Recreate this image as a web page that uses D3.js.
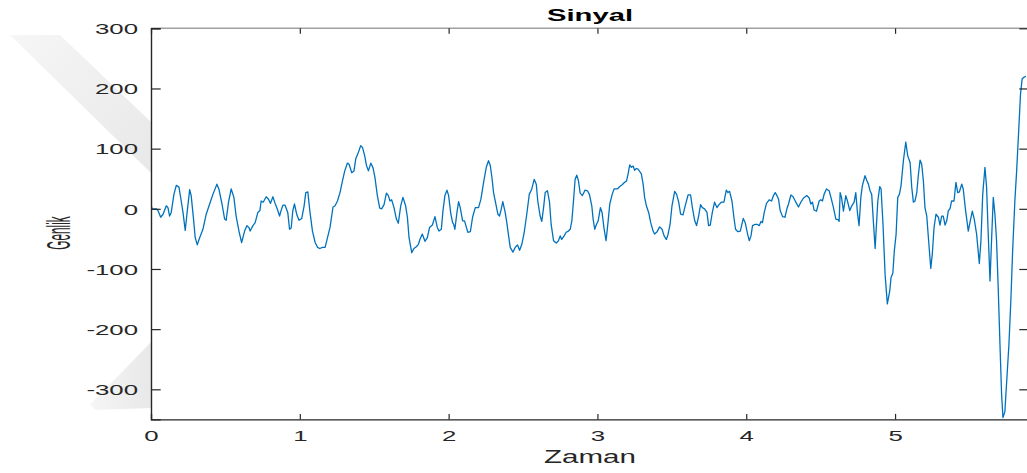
<!DOCTYPE html>
<html>
<head>
<meta charset="utf-8">
<script src="https://cdn.jsdelivr.net/npm/d3@7"></script>
<style>
  html, body { margin: 0; padding: 0; background: #ffffff; }
  svg { display: block; }
  text { font-family: "Liberation Sans", Arial, Helvetica, sans-serif; }
</style>
</head>
<body>
<svg id="chart" width="1027" height="473"></svg>
<script>
// ---- data ----
const titleText = "Sinyal";
const xLabelText = "Zaman";
const yLabelText = "Genlik";
const xTicks = [0, 1, 2, 3, 4, 5];
const yTicks = [-300, -200, -100, 0, 100, 200, 300];
const xDomain = [0, 5.9];
const yDomain = [-350, 300];

const time = [
  0.000,0.007,0.036,0.047,0.065,0.081,0.103,0.114,0.125,0.136,0.154,0.170,0.188,0.203,0.215,0.230,0.244,0.260,0.270,0.287,
  0.297,0.311,0.327,0.349,0.371,0.394,0.416,0.443,0.456,0.477,0.495,0.505,0.521,0.539,0.557,0.572,0.591,0.609,0.629,0.644,
  0.658,0.666,0.685,0.700,0.718,0.732,0.740,0.754,0.774,0.790,0.803,0.819,0.834,0.848,0.864,0.874,0.886,0.901,0.919,0.931,
  0.942,0.953,0.964,0.980,0.995,1.013,1.029,1.040,1.054,1.067,1.085,1.103,1.119,1.134,1.152,1.170,1.186,1.203,1.223,1.237,
  1.253,1.270,1.287,1.302,1.320,1.331,1.349,1.364,1.376,1.394,1.409,1.421,1.436,1.448,1.461,1.477,1.492,1.505,1.521,1.537,
  1.550,1.566,1.582,1.595,1.606,1.617,1.633,1.649,1.662,1.678,1.693,1.711,1.723,1.734,1.752,1.767,1.783,1.797,1.807,1.823,
  1.841,1.857,1.872,1.891,1.908,1.924,1.935,1.951,1.962,1.975,1.989,2.000,2.015,2.027,2.034,2.042,2.056,2.067,2.078,2.094,
  2.107,2.116,2.129,2.146,2.161,2.179,2.201,2.217,2.235,2.253,2.268,2.280,2.291,2.302,2.313,2.331,2.342,2.354,2.364,2.380,
  2.391,2.403,2.414,2.432,2.448,2.463,2.477,2.492,2.508,2.525,2.542,2.559,2.575,2.589,2.599,2.615,2.626,2.638,2.649,2.664,
  2.678,2.689,2.705,2.723,2.738,2.750,2.760,2.776,2.790,2.805,2.817,2.828,2.839,2.850,2.861,2.872,2.884,2.899,2.917,2.933,
  2.946,2.962,2.971,2.982,2.993,3.005,3.020,3.031,3.045,3.058,3.072,3.083,3.099,3.112,3.134,3.150,3.166,3.183,3.195,3.206,
  3.217,3.228,3.240,3.250,3.262,3.273,3.284,3.295,3.307,3.317,3.329,3.344,3.358,3.374,3.384,3.401,3.418,3.434,3.448,3.463,
  3.474,3.488,3.501,3.519,3.532,3.546,3.559,3.575,3.591,3.609,3.626,3.638,3.653,3.666,3.680,3.693,3.705,3.720,3.736,3.747,
  3.758,3.772,3.787,3.803,3.817,3.832,3.850,3.866,3.877,3.888,3.904,3.917,3.928,3.944,3.960,3.980,3.993,4.009,4.020,4.032,
  4.042,4.060,4.076,4.087,4.099,4.109,4.121,4.136,4.154,4.170,4.183,4.195,4.206,4.217,4.228,4.244,4.260,4.273,4.284,4.300,
  4.315,4.333,4.351,4.367,4.385,4.407,4.423,4.434,4.445,4.456,4.472,4.490,4.501,4.512,4.523,4.539,4.557,4.572,4.586,4.602,
  4.617,4.624,4.631,4.640,4.653,4.669,4.680,4.696,4.709,4.725,4.736,4.747,4.758,4.770,4.780,4.798,4.810,4.821,4.832,4.843,
  4.854,4.866,4.884,4.897,4.906,4.919,4.933,4.948,4.964,4.973,4.985,4.995,5.007,5.018,5.029,5.040,5.056,5.072,5.085,5.101,
  5.112,5.123,5.134,5.146,5.156,5.168,5.179,5.190,5.201,5.213,5.224,5.240,5.250,5.262,5.275,5.291,5.302,5.313,5.324,5.336,
  5.347,5.358,5.369,5.380,5.396,5.409,5.421,5.432,5.448,5.458,5.474,5.492,5.503,5.519,5.532,5.548,5.566,5.577,5.589,5.604,
  5.615,5.626,5.638,5.649,5.660,5.671,5.682,5.693,5.705,5.716,5.725,5.738,5.750,5.765,5.778,5.790,5.805,5.817,5.832,5.843,
  5.854,5.868,5.879
];
const amplitude = [
  8,0,0,-3,-14,-9,5,2,-12,-6,24,39,36,13,-6,-36,-3,32,22,-20,
  -48,-60,-48,-34,-9,8,24,41,33,8,-17,-19,11,33,19,-12,-37,-56,-37,-28,
  -31,-37,-28,-23,-6,-3,13,11,20,16,9,20,9,0,-12,-3,6,6,-6,-34,
  -32,-3,8,-10,-19,-16,5,27,28,-3,-37,-56,-64,-66,-64,-64,-48,-31,3,5,
  13,27,47,63,76,74,60,63,83,94,105,102,88,72,63,76,68,52,22,1,
  0,7,26,22,13,15,2,-17,-24,5,19,5,-14,-48,-73,-66,-63,-59,-51,-42,
  -54,-48,-31,-27,-13,-31,-37,-34,-3,22,31,22,-9,-23,-26,-34,-6,12,2,-20,
  -20,-28,-39,-38,-14,2,2,16,44,69,80,72,52,27,13,-9,-12,0,12,-6,
  -23,-45,-64,-72,-64,-60,-69,-59,-39,-9,24,33,49,41,13,-12,-21,2,27,30,
  11,-26,-53,-57,-53,-45,-51,-45,-39,-37,-34,-20,13,49,56,47,26,22,31,30,
  24,5,-17,-34,-26,-20,2,-6,-34,-53,-20,8,24,33,33,37,40,44,46,58,
  73,69,71,64,67,66,62,58,41,19,5,-6,-23,-37,-42,-38,-30,-34,-45,-51,
  -43,-26,5,29,24,11,-9,-10,6,23,23,2,-19,-28,-12,7,2,0,-6,-28,
  -27,-6,11,2,7,11,11,31,27,29,13,-14,-34,-38,-37,-16,-23,-42,-53,-45,
  -28,-26,-26,-28,-21,-23,-6,9,15,13,22,27,22,16,-3,-13,-14,0,8,23,
  20,11,3,11,18,22,18,8,11,-2,-4,13,15,13,24,33,30,16,2,-17,
  -18,-21,27,19,-4,22,13,-3,5,11,27,-6,-28,19,38,55,47,41,30,24,
  -20,-66,13,37,33,-26,-109,-158,-137,-114,-107,-70,-42,19,24,38,80,111,88,77,
  36,11,13,27,55,81,74,47,2,-12,-48,-99,-76,-31,-9,-14,-27,-12,-12,-27,
  -20,-3,0,13,13,44,27,28,41,33,-3,-37,-23,-4,-17,-42,-91,-53,24,69,
  36,-42,-120,-48,19,-9,-53,-131,-226,-309,-347,-337,-287,-226,-153,-70,13,63,136,191,
  216,219,220
];

// ---- chart ----
const W = 1027, H = 473;
const plotLeft = 151, plotRight = 1029, plotTop = 28.3, plotBottom = 419.4;
const SX = 1.72; // horizontal stretch of the original figure
const svg = d3.select("#chart");

// watermark shapes (behind the axes)
const defs = svg.append("defs");
const g1 = defs.append("linearGradient").attr("id", "wm1").attr("x1", "0").attr("y1", "0").attr("x2", "1").attr("y2", "1");
g1.append("stop").attr("offset", "0").attr("stop-color", "#f6f6f6");
g1.append("stop").attr("offset", "1").attr("stop-color", "#e8e8e8");
const g2 = defs.append("linearGradient").attr("id", "wm2").attr("x1", "0").attr("y1", "0").attr("x2", "1").attr("y2", "0");
g2.append("stop").attr("offset", "0").attr("stop-color", "#f6f6f6");
g2.append("stop").attr("offset", "1").attr("stop-color", "#e8e8e8");
svg.append("polygon").attr("points", "10,35 60,35 151,122 151,173").attr("fill", "url(#wm1)");
svg.append("polygon").attr("points", "90,405 151,342 151,408 96,410").attr("fill", "url(#wm2)");

const x = d3.scaleLinear().domain(xDomain).range([plotLeft, plotRight]);
const y = d3.scaleLinear().domain(yDomain).range([plotBottom, plotTop]);

// plot background
svg.append("rect").attr("x", plotLeft).attr("y", plotTop)
  .attr("width", plotRight - plotLeft + 2).attr("height", plotBottom - plotTop).attr("fill", "#ffffff");

// signal
const clipId = "plotclip";
defs.append("clipPath").attr("id", clipId).append("rect")
  .attr("x", plotLeft).attr("y", plotTop - 1).attr("width", plotRight - plotLeft + 2).attr("height", plotBottom - plotTop + 2);
const pts = time.map((t, i) => [t, amplitude[i]]);
svg.append("path").datum(pts)
  .attr("clip-path", `url(#${clipId})`)
  .attr("fill", "none").attr("stroke", "#0072BD").attr("stroke-width", 1.3)
  .attr("stroke-linejoin", "round")
  .attr("d", d3.line().x(d => x(d[0])).y(d => y(d[1])));

// axes box
const axisColor = "#262626";
svg.append("line").attr("x1", plotLeft).attr("x2", plotRight + 2).attr("y1", plotTop).attr("y2", plotTop)
  .attr("stroke", "#a0a0a0").attr("stroke-width", 1.5);
svg.append("line").attr("x1", plotRight).attr("x2", plotRight).attr("y1", plotTop).attr("y2", plotBottom)
  .attr("stroke", axisColor).attr("stroke-width", 1.2);

// bottom axis (ticks inward)
const xAxisB = d3.axisBottom(x).tickValues(xTicks).tickFormat(d3.format("d")).tickSize(-5.5).tickPadding(0);
const gxb = svg.append("g").attr("transform", `translate(0,${plotBottom})`).call(xAxisB);
gxb.select(".domain").attr("stroke", axisColor).attr("stroke-width", 1.2);
gxb.selectAll(".tick line").attr("stroke", axisColor).attr("stroke-width", 1.2);
gxb.selectAll(".tick text").remove();
gxb.selectAll(".tick").append("text")
  .attr("transform", `translate(0,22) scale(${SX},1)`)
  .attr("text-anchor", "middle").attr("fill", axisColor).attr("font-size", 15)
  .text(d => d3.format("d")(d));

// top ticks
const xAxisT = d3.axisTop(x).tickValues(xTicks).tickFormat("").tickSize(-5.5);
const gxt = svg.append("g").attr("transform", `translate(0,${plotTop})`).call(xAxisT);
gxt.select(".domain").remove();
gxt.selectAll(".tick line").attr("stroke", axisColor).attr("stroke-width", 1.2);

// left axis
const yAxisL = d3.axisLeft(y).tickValues(yTicks).tickFormat("").tickSize(-9.7);
const gyl = svg.append("g").attr("transform", `translate(${plotLeft},0)`).call(yAxisL);
gyl.select(".domain").attr("stroke", axisColor).attr("stroke-width", 1.4);
gyl.selectAll(".tick line").attr("stroke", axisColor).attr("stroke-width", 1.2);
gyl.selectAll(".tick").append("text")
  .attr("transform", `translate(-13,5.3) scale(${SX},1)`)
  .attr("text-anchor", "end").attr("fill", axisColor).attr("font-size", 15)
  .text(d => d);

// right ticks
const yAxisR = d3.axisRight(y).tickValues(yTicks).tickFormat("").tickSize(-9.7);
const gyr = svg.append("g").attr("transform", `translate(${plotRight},0)`).call(yAxisR);
gyr.select(".domain").remove();
gyr.selectAll(".tick line").attr("stroke", axisColor).attr("stroke-width", 1.2);

// title
svg.append("text")
  .attr("transform", `translate(${(plotLeft + plotRight) / 2},20.7) scale(${SX},1)`)
  .attr("text-anchor", "middle").attr("font-size", 17).attr("font-weight", "bold").attr("fill", "#000")
  .text(titleText);

// x label
svg.append("text")
  .attr("transform", `translate(${(plotLeft + plotRight) / 2},463.3) scale(${SX * 0.97},1)`)
  .attr("text-anchor", "middle").attr("font-size", 17.7).attr("fill", axisColor)
  .text(xLabelText);

// y label
svg.append("text")
  .attr("transform", `translate(70,233) rotate(-90) scale(0.62,${SX})`)
  .attr("text-anchor", "middle").attr("font-size", 19).attr("fill", axisColor)
  .text(yLabelText);
</script>
</body>
</html>
